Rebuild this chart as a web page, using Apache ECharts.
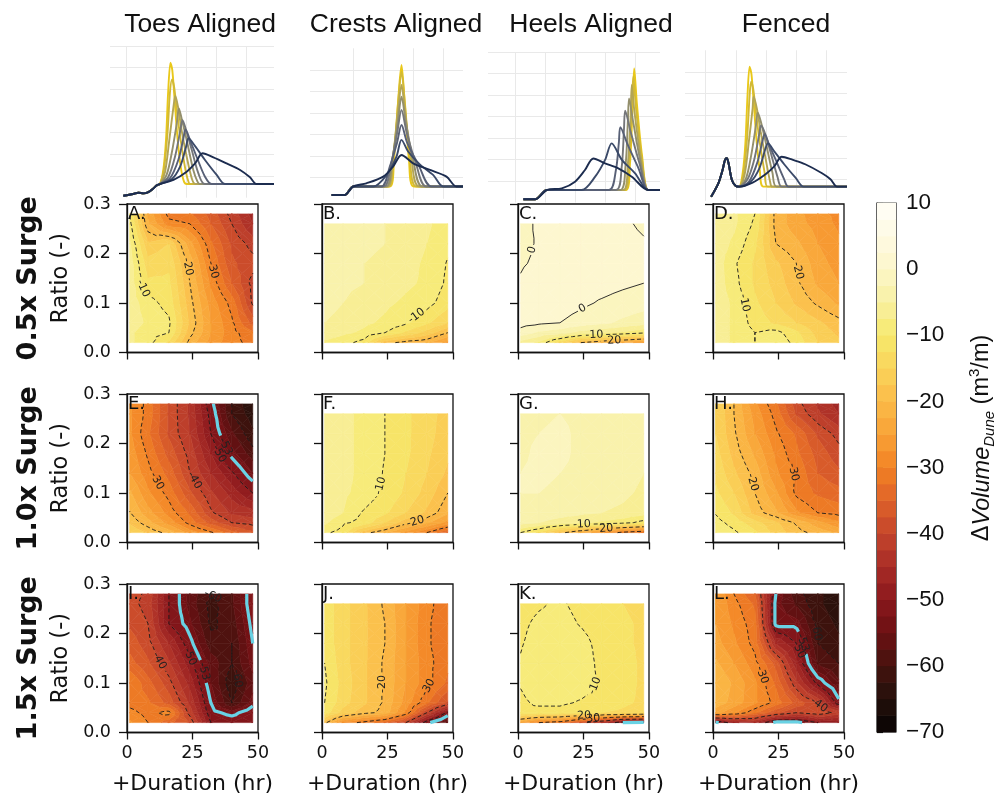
<!DOCTYPE html>
<html><head><meta charset="utf-8">
<script src="https://cdn.jsdelivr.net/npm/echarts@6/dist/echarts.min.js"></script>
<style>html,body{margin:0;padding:0;background:#fff}#c{width:995px;height:799px}</style>
</head><body><div id="c"></div>
<script>
// ---------------- DATA ----------------
const titles = ['Toes Aligned', 'Crests Aligned', 'Heels Aligned', 'Fenced'];
const rowLabels = ['0.5x Surge', '1.0x Surge', '1.5x Surge'];
const panelIds = ['A','B','C','D','E','F','G','H','I','J','K','L'];
const durations = [1, 8, 16, 24, 32, 40, 48];
const ratiosTall = [0.02, 0.04, 0.06, 0.10, 0.14, 0.18, 0.22, 0.26, 0.28];
const ratiosShort = [0.02, 0.04, 0.06, 0.10, 0.14, 0.18, 0.22, 0.26];
const xTicks = [0, 25, 50];
const cbTicks = [10, 0, -10, -20, -30, -40, -50, -60, -70];

// rows listed from lowest ratio (0.02) upward; columns follow durations
const panelA = [
  [-7, -9, -13, -21, -26, -29, -31],
  [-7, -9, -10, -19, -25, -29, -32],
  [-6, -8, -9.5, -18, -25, -29.5, -36],
  [-6, -9, -11, -19, -26, -31, -40.5],
  [-6, -12, -12, -20, -28, -35, -41],
  [-6, -14, -13, -21, -30, -37, -39],
  [-7, -17, -15, -24, -32, -38, -41],
  [-9, -22, -29, -30, -35, -40, -45],
  [-10, -23, -31, -32, -36, -41, -46]];
const panelB = [
  [-8, -9, -11, -19, -21, -22, -26],
  [-6, -7, -8, -10, -13, -16, -20],
  [-5, -6, -7, -8, -9.5, -12, -15],
  [-4, -5, -6, -7, -8, -9, -11.5],
  [-4, -4.5, -5, -6, -7, -8, -10.5],
  [-4, -4, -5, -5.5, -6.5, -8, -10.2],
  [-4, -4, -4.5, -5, -6, -7.5, -9.5],
  [-4, -4, -4, -5, -6, -7, -9]];
const panelC = [
  [-6, -8, -14, -20, -22, -24, -26],
  [-1, -3, -4, -6, -7, -8, -9.5],
  [1, 0.5, 0, -1, -2, -3, -4],
  [1.5, 1.5, 1.2, 0.5, -0.3, -1.0, -1.5],
  [0.3, 1.5, 1.5, 1.3, 1, 0.5, 0],
  [-0.3, 0.5, 1.5, 1.5, 1.3, 1, 0.5],
  [-0.8, 0.3, 1.3, 1.5, 1.3, 1, 0.3],
  [-1, 0.5, 1.2, 1.5, 1.3, 0.5, -0.5]];
const panelD = [
  [-6, -8, -10, -8, -11, -15, -17],
  [-6, -8, -10, -9, -12, -16, -18],
  [-6, -8, -11, -13, -15, -17, -19],
  [-6, -8, -12, -15, -18, -20.5, -23],
  [-6, -9, -13, -16, -19.5, -23, -25],
  [-6, -9.5, -13, -17, -20, -24, -26],
  [-6, -8, -12, -20, -22, -25, -27],
  [-6, -7, -10.5, -21, -24, -26, -28],
  [-6, -7, -10, -21, -24, -27, -28]];
const panelE = [
  [-15, -18, -21, -26, -29.5, -34, -37],
  [-18, -21.5, -26, -31, -36, -40, -41],
  [-19.8, -24, -28.5, -33, -39.5, -43, -44],
  [-22, -27, -31, -37, -42, -46, -50],
  [-25, -29, -33.5, -40, -45, -49.5, -55],
  [-26, -30.5, -36, -41, -47.5, -54, -59],
  [-27, -32, -38, -42.5, -50, -57, -62],
  [-27, -31, -38, -43, -51, -60, -64],
  [-27, -31, -38, -43, -52, -60, -65]];
const panelF = [
  [-9.5, -11, -19, -22, -26, -30, -35],
  [-7, -9.5, -11, -15, -19, -22, -26],
  [-6, -7.5, -10.3, -12, -15, -18, -22],
  [-5.5, -7, -8.5, -10.5, -13, -16, -20],
  [-5, -6.5, -8.5, -10.2, -12.5, -15, -18],
  [-5, -6.5, -8.5, -10, -12, -14.5, -17],
  [-5, -6.5, -8.5, -10, -12, -14, -16.5],
  [-5, -6.5, -8.5, -10, -12, -14, -16]];
const panelG = [
  [-10, -13, -19, -23, -27, -31, -33],
  [-4, -5, -6, -7, -8, -9, -11],
  [-3, -3.5, -4, -4.5, -5, -5.5, -6.5],
  [-2.5, -2.5, -3, -3.5, -4, -4.5, -5.5],
  [-2.5, -2, -2.5, -3, -3.5, -4, -5],
  [-3, -2, -2, -3, -3.5, -4, -5],
  [-3, -2.5, -2, -3, -3.5, -4, -5],
  [-3, -3, -2.5, -3, -3.5, -4, -5]];
const panelH = [
  [-8, -9.5, -12, -16, -19, -21, -23],
  [-9, -11, -14, -17, -20.5, -24, -27],
  [-10.2, -13, -18.5, -22, -27, -30, -31],
  [-12, -15, -20, -24.5, -30.8, -33, -34],
  [-13, -17, -21, -27, -30.5, -35, -37],
  [-14, -18.5, -23, -28, -32, -36, -39],
  [-15, -19.5, -25, -29.5, -33, -38, -41],
  [-15, -20, -26, -31, -38, -42, -45],
  [-15, -20, -27, -32, -39, -43, -46]];
const panelI = [
  [-27, -30, -34, -38, -50, -51, -50],
  [-29, -31, -29, -41, -52, -54, -51],
  [-31, -32, -36, -43, -53, -60, -54],
  [-30, -34, -39, -46, -55, -62, -56],
  [-34, -37, -42, -49, -56, -60, -54],
  [-36, -39, -45, -52, -59, -60, -53],
  [-38, -40, -50, -54.5, -60.5, -59, -52],
  [-39, -41, -50, -56, -61, -58, -51],
  [-39, -40.5, -50, -56, -60, -58, -51]];
const panelJ = [
  [-19, -28, -31, -34, -40, -52, -58],
  [-11, -16, -19, -21, -28, -40, -51],
  [-10, -14, -17, -20.5, -26, -32, -38],
  [-9.5, -13.5, -17, -20.5, -25, -29, -33],
  [-10, -14, -17, -20.5, -25, -29, -32],
  [-11, -14, -17, -20, -25, -29.5, -32],
  [-11, -14, -17, -20, -25, -29.5, -32],
  [-11, -14, -17, -20.5, -25, -29, -32]];
const panelK = [
  [-25, -30, -32, -38, -45, -53, -54],
  [-10.5, -11, -11, -12, -12.5, -13, -14],
  [-10.5, -9.5, -9.5, -10.3, -11, -12, -13],
  [-9.8, -8.5, -8, -8.5, -10.5, -11.5, -13],
  [-9.8, -8.5, -8, -8.5, -10.8, -11.5, -13],
  [-10.2, -9, -8.5, -9, -11, -12, -13],
  [-10.5, -9.5, -9, -10.2, -11.5, -12, -13],
  [-11, -10.3, -9.6, -10.8, -12, -12.5, -13.5]];
const panelL = [
  [-54, -48, -46, -54, -54, -50, -49],
  [-24, -27, -32, -37, -40, -38, -41],
  [-21, -23.5, -27, -31, -36, -40, -52],
  [-20, -23, -27, -33, -42, -51, -57],
  [-22, -25, -29, -36, -47, -58, -60],
  [-24, -27, -31, -45, -50, -60, -62],
  [-25, -28, -31.5, -54, -54, -61, -63],
  [-25, -29, -33, -54, -58, -62, -64],
  [-25, -30, -35, -53, -59, -62, -64]];

// contour line levels
const lineLevels = [-60, -50, -40, -30, -20, -10, 0];
const criticalLevel = -53;

// top profiles (x: m, y: m)
const toesGround = [[-11.1,-0.91],[-7.8,-0.83],[-6.1,-0.77],[-4.4,-0.8],[-2.8,-0.74],[-1.1,-0.57],[0,-0.43],[1.1,-0.37]];
const toesEnd = [39.1, -0.37];
const toesDunes = [
  [[2.2,0.28],[3.1,1.66],[3.8,3.82],[4.6,5.23],[5.2,4.89],[5.9,3.66],[6.9,1.82],[8.0,0.43],[9.1,-0.26],[10.0,-0.37]],
  [[2.4,0.28],[3.6,1.97],[4.4,3.82],[5.1,4.46],[5.8,4.12],[6.7,3.05],[8.0,1.66],[9.6,0.28],[10.7,-0.31],[11.3,-0.37]],
  [[2.8,0.2],[4.2,1.66],[5.6,3.2],[6.2,3.69],[7.1,3.2],[8.3,2.12],[10.0,0.89],[11.7,-0.11],[12.9,-0.37]],
  [[3.3,0.05],[5.0,1.05],[6.7,2.43],[7.4,3.12],[8.3,2.66],[10.0,1.66],[12.2,0.28],[13.6,-0.26],[14.4,-0.37]],
  [[3.9,-0.03],[6.1,0.89],[7.8,2.05],[8.6,2.58],[9.8,2.12],[11.7,1.2],[13.9,0.12],[16.1,-0.37]],
  [[4.4,-0.11],[7.2,0.74],[8.9,1.74],[9.6,2.15],[11.1,1.66],[13.3,0.89],[16.1,-0.03],[18.3,-0.37]],
  [[5.0,-0.15],[7.8,0.43],[9.8,1.35],[10.6,1.74],[12.8,1.38],[16.1,0.74],[20.0,0.05],[22.8,-0.37]],
  [[5.6,-0.18],[10.0,0.2],[12.8,0.58],[15.3,1.05],[18.9,0.86],[23.3,0.58],[27.8,0.28],[31.1,-0.06],[33.3,-0.37]]];
const crestsGround = [[-7.2,-0.82],[-2.8,-0.82],[0,-0.43]];
const crestsEnd = [36.6, -0.43];
const crestsDunes = [
  [[12.2,-0.43],[13.6,0.8],[15.0,3.6],[16.1,5.22],[17.1,3.6],[18.6,0.8],[20.2,-0.43]],
  [[11.8,-0.43],[13.4,0.9],[15.0,3.5],[16.1,4.91],[17.2,3.5],[18.9,0.9],[21.1,-0.43]],
  [[11.3,-0.43],[13.2,0.9],[14.9,3.0],[16.1,4.29],[17.3,3.0],[19.4,0.9],[22.0,-0.43]],
  [[10.9,-0.43],[13.0,0.8],[14.9,2.6],[16.1,3.75],[17.5,2.6],[20.0,0.8],[23.1,-0.43]],
  [[10.2,-0.43],[12.6,0.6],[14.7,2.1],[16.1,3.13],[17.8,2.1],[20.8,0.7],[24.4,-0.43]],
  [[9.4,-0.43],[12.2,0.5],[14.6,1.6],[16.1,2.43],[18.0,1.6],[21.7,0.6],[26.1,-0.43]],
  [[6.7,-0.43],[11.1,0.1],[14.4,0.95],[16.1,1.74],[18.3,1.2],[22.2,0.6],[26.7,0.1],[30.0,-0.43]],
  [[4.4,-0.28],[10.0,0.03],[13.3,0.5],[16.1,1.04],[20.0,0.65],[25.6,0.34],[31.1,0.03],[34.4,-0.43]]];
const heelsGround = [[-17.2,-0.85],[-13.3,-0.85],[-9.4,-0.42]];
const heelsEnd = [28.3, -0.42];
const heelsDunes = [
  [[17.0,-0.42],[18.3,0.8],[19.2,3.6],[19.7,5.24],[20.6,3.6],[22.3,1.2],[24.4,-0.42]],
  [[16.6,-0.42],[18.0,0.8],[18.9,3.4],[19.4,4.85],[20.3,3.4],[22.2,1.1],[24.4,-0.42]],
  [[16.1,-0.42],[17.6,0.8],[18.5,3.0],[18.9,4.47],[19.8,3.2],[22.0,1.0],[24.4,-0.42]],
  [[15.0,-0.42],[16.8,0.7],[17.6,2.8],[18.0,3.84],[19.3,2.8],[21.8,0.9],[24.4,-0.42]],
  [[13.6,-0.42],[15.5,0.6],[16.3,2.4],[16.7,3.27],[18.5,2.3],[21.5,0.8],[24.4,-0.42]],
  [[11.3,-0.42],[13.6,0.5],[14.6,1.8],[15.1,2.5],[17.5,1.7],[21.1,0.6],[24.4,-0.42]],
  [[2.2,-0.42],[6.7,0.2],[10.0,0.98],[12.2,1.75],[15.6,0.98],[20.0,0.36],[24.4,-0.42]],
  [[-4.4,-0.34],[0,-0.03],[3.3,0.51],[6.1,1.05],[10.0,0.82],[14.4,0.59],[18.9,0.2],[24.4,-0.42]]];
const fencedGround = [[-8.2,-0.81],[-5.8,-0.19],[-4.4,0.43],[-3.6,0.9],[-3.0,0.98],[-2.4,0.74],[-1.3,-0.03],[0,-0.31],[1.1,-0.34]];
const fencedEnd = [37.0, -0.34];
const fencedDunes = [
  [[2.3,0.3],[3.2,1.7],[3.9,3.9],[4.6,5.24],[5.2,4.9],[5.9,3.7],[6.9,1.8],[8.0,0.4],[9.2,-0.34]],
  [[2.6,0.3],[3.8,2.0],[4.6,3.9],[5.1,4.54],[5.8,4.2],[6.7,3.1],[8.0,1.7],[9.6,0.3],[10.6,-0.34]],
  [[2.9,0.2],[4.3,1.7],[5.6,3.3],[5.9,3.84],[7.0,3.3],[8.3,2.2],[10.0,0.9],[11.4,-0.1],[12.1,-0.34]],
  [[3.4,0.05],[5.1,1.1],[6.7,2.5],[7.3,3.1],[8.3,2.7],[10.0,1.7],[12.2,0.3],[13.6,-0.34]],
  [[3.9,0],[6.1,0.9],[7.8,2.1],[8.4,2.5],[9.8,2.1],[11.7,1.2],[13.9,0.1],[15.3,-0.34]],
  [[4.4,-0.1],[7.2,0.8],[8.9,1.8],[9.6,2.1],[11.1,1.6],[13.3,0.9],[16.1,0],[17.5,-0.34]],
  [[5.0,-0.1],[7.8,0.5],[9.8,1.4],[10.7,1.67],[12.8,1.3],[16.1,0.7],[20.0,0.05],[22.6,-0.34]],
  [[5.6,-0.15],[10.0,0.25],[12.8,0.6],[15.3,1.05],[19.0,0.9],[23.1,0.7],[28.7,0.28],[31.5,0.0],[33.7,-0.34]]];

// ---------------- STYLE ----------------
const profileColors = ['#e9c81a','#d2b935','#b3a555','#938f6c','#747679','#586076','#3b4a69','#1c2c4f'];
const cmapStops = [
  [-70,'#070303'],[-65,'#24100b'],[-60,'#45120e'],[-55,'#6b1013'],[-50,'#8a181c'],[-45,'#a82c26'],
  [-40,'#c4452c'],[-35,'#df6229'],[-30,'#f28224'],[-25,'#f8a237'],[-20,'#fbbb48'],[-15,'#fad45b'],
  [-10,'#f6e96c'],[-5,'#f8f0a2'],[0,'#fcf6c9'],[5,'#fefae3'],[10,'#fffef8']];
const VMIN = -70, VMAX = 10, STEP = 2.5, NB = 32;
function hex(c){return [parseInt(c.substr(1,2),16),parseInt(c.substr(3,2),16),parseInt(c.substr(5,2),16)];}
function colorFor(v){
  v = Math.max(VMIN, Math.min(VMAX, v));
  for (let i=0;i<cmapStops.length-1;i++){
    const a=cmapStops[i], b=cmapStops[i+1];
    if (v>=a[0] && v<=b[0]){
      const f=(v-a[0])/(b[0]-a[0]); const ca=hex(a[1]), cb=hex(b[1]);
      return 'rgb('+ca.map((x,k)=>Math.round(x+f*(cb[k]-x))).join(',')+')';
    }
  }
  return cmapStops[cmapStops.length-1][1];
}
function bandColor(b){return colorFor(VMIN + STEP*b + STEP/2);}

// ---------------- CONTOUR GEOMETRY ----------------
function buildTriangles(xs, ys, Z){
  const tris=[];
  for (let j=0;j<ys.length-1;j++) for (let i=0;i<xs.length-1;i++){
    const p00={x:xs[i],y:ys[j],v:Z[j][i]}, p10={x:xs[i+1],y:ys[j],v:Z[j][i+1]};
    const p01={x:xs[i],y:ys[j+1],v:Z[j+1][i]}, p11={x:xs[i+1],y:ys[j+1],v:Z[j+1][i+1]};
    const c={x:(xs[i]+xs[i+1])/2, y:(ys[j]+ys[j+1])/2, v:(p00.v+p10.v+p01.v+p11.v)/4};
    tris.push([p00,p10,c],[p10,p11,c],[p11,p01,c],[p01,p00,c]);
  }
  return tris;
}
function clipPoly(poly, lvl, above){
  const out=[];
  for (let k=0;k<poly.length;k++){
    const a=poly[k], b=poly[(k+1)%poly.length];
    const ia = above ? a.v>=lvl : a.v<=lvl;
    const ib = above ? b.v>=lvl : b.v<=lvl;
    if (ia) out.push(a);
    if (ia!==ib){ const t=(lvl-a.v)/(b.v-a.v); out.push({x:a.x+t*(b.x-a.x), y:a.y+t*(b.y-a.y), v:lvl}); }
  }
  return out;
}
function buildFills(tris){
  const out=[];
  tris.forEach(t=>{
    const vs=t.map(p=>p.v);
    let b0=Math.floor((Math.min(...vs)-VMIN)/STEP), b1=Math.floor((Math.max(...vs)-VMIN)/STEP);
    b0=Math.max(0,Math.min(NB-1,b0)); b1=Math.max(0,Math.min(NB-1,b1));
    for (let b=b0;b<=b1;b++){
      const lo=VMIN+STEP*b, hi=lo+STEP;
      let poly=t;
      if (b>b0) poly=clipPoly(poly,lo,true);
      if (poly.length>=3 && b<b1) poly=clipPoly(poly,hi,false);
      if (poly.length>=3) out.push({pts:poly.map(p=>[p.x,p.y]), c:bandColor(b)});
    }
  });
  return out;
}
function chain(segs){
  const key=p=>Math.round(p.x*1e4)+'_'+Math.round(p.y*1e7);
  const adj=new Map();
  segs.forEach((s,i)=>{[0,1].forEach(e=>{const k=key(s[e]); if(!adj.has(k)) adj.set(k,[]); adj.get(k).push([i,e]);});});
  const used=new Array(segs.length).fill(false);
  const out=[];
  function walk(si,e){
    const pts=[segs[si][e]];
    while(true){
      used[si]=true;
      const other=segs[si][1-e];
      pts.push(other);
      let nxt=null;
      for (const [sj,ej] of adj.get(key(other))) if(!used[sj]){nxt=[sj,ej];break;}
      if(!nxt) break;
      si=nxt[0]; e=nxt[1];
    }
    return pts;
  }
  for (const [k,lst] of adj) if (lst.length===1 && !used[lst[0][0]]) out.push(walk(lst[0][0],lst[0][1]));
  segs.forEach((s,i)=>{ if(!used[i]) out.push(walk(i,0)); });
  return out;
}
function buildLines(tris, level){
  const segs=[];
  tris.forEach(t=>{
    const pts=[];
    for (let k=0;k<3;k++){
      let a=t[k], b=t[(k+1)%3];
      if ((a.v>level)!==(b.v>level)){
        if (a.x>b.x || (a.x===b.x && a.y>b.y)){const tmp=a;a=b;b=tmp;}
        const s=(level-a.v)/(b.v-a.v);
        pts.push({x:a.x+s*(b.x-a.x), y:a.y+s*(b.y-a.y)});
      }
    }
    if (pts.length===2 && (Math.abs(pts[0].x-pts[1].x)>1e-9 || Math.abs(pts[0].y-pts[1].y)>1e-12)) segs.push(pts);
  });
  return chain(segs).map(pl=>({level, pts:pl.map(p=>[p.x,p.y])}));
}

function pathAt(P,cum,s){
  let i=0; while(i<cum.length-2 && cum[i+1]<s) i++;
  const seg=cum[i+1]-cum[i]; const f=seg>0?(s-cum[i])/seg:0;
  return [P[i][0]+f*(P[i+1][0]-P[i][0]), P[i][1]+f*(P[i+1][1]-P[i][1])];
}
function subPath(P,cum,s0,s1){
  const r=[]; if(s1<=s0) return r;
  r.push(pathAt(P,cum,s0));
  for (let i=0;i<P.length;i++) if (cum[i]>s0 && cum[i]<s1) r.push(P[i]);
  r.push(pathAt(P,cum,s1));
  return r;
}
function drawContour(api, line, out){
  const P=line.pts.map(p=>api.coord(p));
  if (P.length<2) return;
  const crit = line.level===criticalLevel;
  const style = crit ? {stroke:'#69d2e4', lineWidth:3.2, fill:null, lineJoin:'round'}
                     : {stroke:'#1a1a1a', lineWidth:0.9, fill:null, lineDash: line.level<0?[4,2.5]:null};
  const cum=[0];
  for (let i=1;i<P.length;i++) cum.push(cum[i-1]+Math.hypot(P[i][0]-P[i-1][0],P[i][1]-P[i-1][1]));
  const total=cum[cum.length-1];
  const txt=String(line.level);
  const lw=txt.length*6.5+4;
  if (total > lw*2.6){
    const sm=total/2;
    const p1=pathAt(P,cum,sm-lw/2), p2=pathAt(P,cum,sm+lw/2), pm=pathAt(P,cum,sm);
    let ang=Math.atan2(p2[1]-p1[1], p2[0]-p1[0]);
    if (ang>Math.PI/2) ang-=Math.PI; if (ang<-Math.PI/2) ang+=Math.PI;
    const a=subPath(P,cum,0,sm-lw/2), b=subPath(P,cum,sm+lw/2,total);
    if (a.length>1) out.push({type:'polyline', shape:{points:a}, style});
    if (b.length>1) out.push({type:'polyline', shape:{points:b}, style});
    out.push({type:'text', x:pm[0], y:pm[1], rotation:-ang, z2:20,
      style:{text:txt, fill:'#222', fontSize:11, fontFamily:'DejaVu Sans',
             align:'center', verticalAlign:'middle', textAlign:'center', textVerticalAlign:'middle'}});
  } else {
    out.push({type:'polyline', shape:{points:P}, style});
  }
}

// ---------------- LAYOUT ----------------
const colLefts=[127,322,518,713], rowTops=[204,394,584], PW=131, PH=148.5;
const panels=[panelA,panelB,panelC,panelD,panelE,panelF,panelG,panelH,panelI,panelJ,panelK,panelL];
const grids=[], xAxes=[], yAxes=[], series=[], graphics=[];
const axisFont='DejaVu Sans';

panels.forEach((Z,idx)=>{
  const row=Math.floor(idx/4), col=idx%4;
  const ys = (col===0||col===3) ? ratiosTall : ratiosShort;
  const left=colLefts[col], top=rowTops[row];
  grids.push({left, top, width:PW, height:PH, show:true, borderColor:'#111', borderWidth:1.3,
    backgroundColor:'#fff', containLabel:false, outerBoundsMode:'none'});
  xAxes.push({gridIndex:idx, type:'value', min:0, max:50, interval:25,
    axisLine:{show:true, onZero:false, lineStyle:{color:'#111', width:1.3}},
    axisTick:{show:true, length:7, lineStyle:{color:'#111', width:1.3}},
    axisLabel:{show:row===2, fontSize:17.5, color:'#111', fontFamily:axisFont, margin:12},
    splitLine:{show:false},
    name: row===2 ? '+Duration (hr)' : '', nameLocation:'middle', nameGap:41,
    nameTextStyle:{fontSize:22, color:'#111', fontFamily:axisFont}});
  yAxes.push({gridIndex:idx, type:'value', min:0, max:0.3, interval:0.1,
    axisLine:{show:true, onZero:false, lineStyle:{color:'#111', width:1.3}},
    axisTick:{show:true, length:8, lineStyle:{color:'#111', width:1.3}},
    axisLabel:{show:col===0, fontSize:17.5, color:'#111', fontFamily:axisFont, margin:16,
      formatter:v=>Number(v).toFixed(1)},
    splitLine:{show:false},
    name: col===0 ? 'Ratio (-)' : '', nameLocation:'middle', nameGap:54,
    nameTextStyle:{fontSize:22.5, color:'#111', fontFamily:axisFont}});
  const tris=buildTriangles(durations, ys, Z);
  const fills=buildFills(tris);
  let lines=[];
  lineLevels.forEach(L=>{ lines=lines.concat(buildLines(tris,L)); });
  const crit=buildLines(tris,criticalLevel);
  series.push({type:'custom', coordinateSystem:'cartesian2d', xAxisIndex:idx, yAxisIndex:idx,
    silent:true, animation:false, clip:true, z:2,
    data:[[durations[0], ys[0]]],
    renderItem:function(params, api){
      const ch=[];
      fills.forEach(f=>{ const pts=f.pts.map(p=>api.coord(p));
        ch.push({type:'polygon', shape:{points:pts}, style:{fill:f.c, stroke:f.c, lineWidth:0.6}}); });
      const lineCh=[], textCh=[];
      lines.forEach(l=>drawContour(api,l,lineCh));
      crit.forEach(l=>drawContour(api,l,lineCh));
      lineCh.forEach(c=>{ if(c.type==='text') textCh.push(c); else ch.push(c); });
      return {type:'group', children:ch.concat(textCh)};
    }});
  graphics.push({type:'text', x:left+1, y:top+1, z:100,
    style:{text:panelIds[idx]+'.', fill:'#111', fontSize:18, fontFamily:axisFont,
      align:'left', verticalAlign:'top', textAlign:'left', textVerticalAlign:'top'}});
});

// top profile panels
const topCols=[
  {left:110, top:46, width:164, height:151.7, xmin:-15.56, xmax:39.1, v:[-10,0,10,20,30], h:[0,1,2,3,4,5,6], g:toesGround, d:toesDunes, e:toesEnd},
  {left:310, top:48.3, width:153, height:150.5, xmin:-14.4, xmax:36.6, v:[0,10,20,30], h:[0,1,2,3,4,5], g:crestsGround, d:crestsDunes, e:crestsEnd},
  {left:488, top:52, width:172, height:150.5, xmin:-29, xmax:28.3, v:[-20,-10,0,10,20], h:[0,1,2,3,4,5,6], g:heelsGround, d:heelsDunes, e:heelsEnd},
  {left:685, top:50.3, width:162, height:150.5, xmin:-16.9, xmax:37.0, v:[-10,0,10,20,30], h:[0,1,2,3,4,5], g:fencedGround, d:fencedDunes, e:fencedEnd}];
topCols.forEach((tc,c)=>{
  const gi=12+c;
  grids.push({left:tc.left, top:tc.top, width:tc.width, height:tc.height, show:false, containLabel:false, outerBoundsMode:'none'});
  xAxes.push({gridIndex:gi, type:'value', min:tc.xmin, max:tc.xmax, show:false, splitLine:{show:false}});
  yAxes.push({gridIndex:gi, type:'value', min:-1, max:6, show:false, splitLine:{show:false}});
  series.push({type:'line', xAxisIndex:gi, yAxisIndex:gi, data:[], silent:true, z:1,
    markLine:{silent:true, z:1, symbol:['none','none'], label:{show:false}, animation:false,
      lineStyle:{color:'#e9e9e9', width:1, type:'solid'},
      data: tc.v.map(v=>({xAxis:v})).concat(tc.h.map(v=>({yAxis:v})))}});
  tc.d.forEach((dune,k)=>{
    series.push({type:'line', xAxisIndex:gi, yAxisIndex:gi, z:3+k, silent:true, symbol:'none',
      smooth:0.3, clip:false,
      lineStyle:{color:profileColors[k], width:1.9},
      data: tc.g.concat(dune).concat([tc.e])});
  });
  graphics.push({type:'text', x:[200,396,591,786][c], y:25, z:100,
    style:{text:titles[c], fill:'#111', fontSize:26.5, fontFamily:'Liberation Sans',
      align:'center', verticalAlign:'middle', textAlign:'center', textVerticalAlign:'middle'}});
});

// colorbar
const cbBands=[]; for (let b=0;b<NB;b++) cbBands.push([0, VMIN+STEP*b]);
grids.push({left:877, top:203, width:19, height:529, show:true, borderColor:'#111', borderWidth:1.2, containLabel:false, outerBoundsMode:'none'});
xAxes.push({gridIndex:16, type:'value', min:0, max:1, show:false});
yAxes.push({gridIndex:16, type:'value', min:VMIN, max:VMAX, interval:10, position:'right',
  axisLine:{show:true, lineStyle:{color:'#111', width:1.2}},
  axisTick:{show:true, length:6, lineStyle:{color:'#111', width:1.2}},
  axisLabel:{fontSize:22.5, color:'#111', fontFamily:'Liberation Sans', margin:10,
    formatter:v=>String(v).replace('-','\u2212')},
  splitLine:{show:false}});
series.push({type:'custom', coordinateSystem:'cartesian2d', xAxisIndex:16, yAxisIndex:16, silent:true,
  data:cbBands,
  renderItem:function(params, api){
    const v=api.value(1);
    const a=api.coord([0, v+STEP]), b=api.coord([1, v]);
    const col=colorFor(v+STEP/2);
    return {type:'rect', shape:{x:a[0], y:a[1]-0.3, width:b[0]-a[0], height:b[1]-a[1]+0.6}, style:{fill:col, stroke:null}};
  }});
graphics.push({type:'text', x:982, y:438, rotation:Math.PI/2, z:100,
  style:{text:'{d|Δ}{i|Volume}{s|Dune}{n| (m}{p|3}{n|/m)}',
    align:'center', verticalAlign:'middle', textAlign:'center', textVerticalAlign:'middle',
    rich:{
      d:{fontSize:23.5, fontFamily:'Liberation Sans', fill:'#111', lineHeight:30},
      i:{fontSize:23.5, fontFamily:'Liberation Sans', fontStyle:'italic', fill:'#111', lineHeight:30},
      s:{fontSize:15, fontFamily:'Liberation Sans', fontStyle:'italic', fill:'#111', lineHeight:14, verticalAlign:'bottom'},
      n:{fontSize:23.5, fontFamily:'Liberation Sans', fill:'#111', lineHeight:30},
      p:{fontSize:15, fontFamily:'Liberation Sans', fill:'#111', lineHeight:14, verticalAlign:'top'}
    }}});

// row labels
rowLabels.forEach((t,r)=>{
  graphics.push({type:'text', x:29, y:rowTops[r]+PH/2, rotation:Math.PI/2, z:100,
    style:{text:t, fill:'#111', fontSize:27, fontWeight:'bold', fontFamily:'DejaVu Sans',
      align:'center', verticalAlign:'middle', textAlign:'center', textVerticalAlign:'middle'}});
});

const chart=echarts.init(document.getElementById('c'), null, {renderer:'canvas'});
chart.setOption({animation:false, backgroundColor:'#fff', grid:grids, xAxis:xAxes, yAxis:yAxes, series, graphic:{elements:graphics}});
</script></body></html>
